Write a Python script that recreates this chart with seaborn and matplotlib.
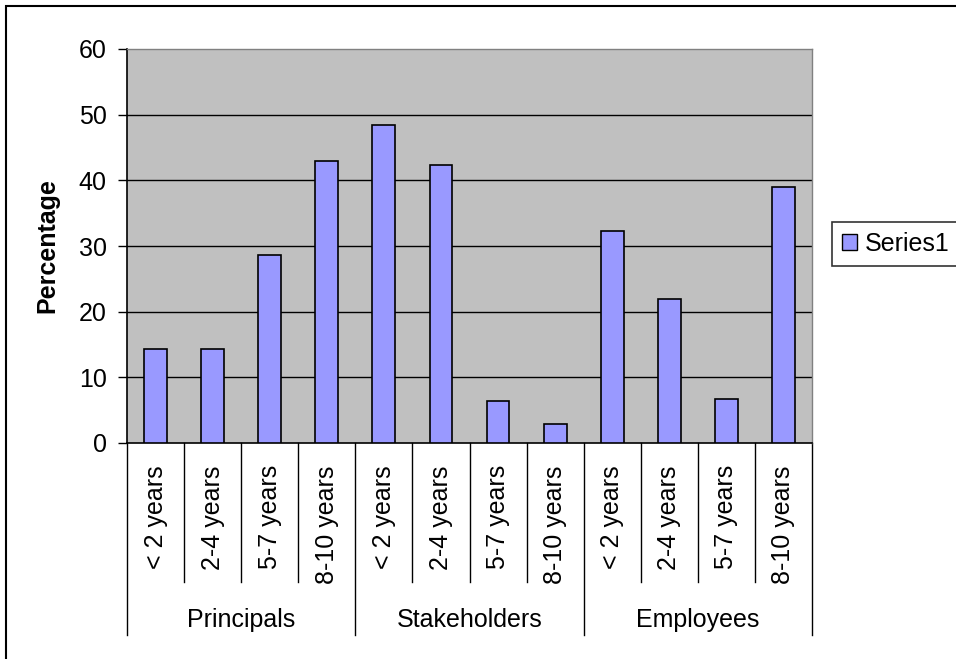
import matplotlib
matplotlib.use("Agg")
import matplotlib.pyplot as plt
from matplotlib.patches import Patch, Rectangle
import seaborn as sns
import pandas as pd

groups = ["Principals", "Stakeholders", "Employees"]
ages = ["< 2 years", "2-4 years", "5-7 years", "8-10 years"]
principals = [14.3, 14.3, 28.6, 42.9]
stakeholders = [48.4, 42.3, 6.4, 2.9]
employees = [32.3, 22.0, 6.7, 39.0]
series_name = "Series1"
y_ticks = [0, 10, 20, 30, 40, 50, 60]

plt.rcParams['font.family'] = ['Liberation Sans', 'DejaVu Sans']
FS = 18

rows = []
for g, vals in zip(groups, [principals, stakeholders, employees]):
    for a, v in zip(ages, vals):
        rows.append({"slot": f"{g}|{a}", "group": g, "age": a, "value": v})
df = pd.DataFrame(rows)
order = list(df["slot"])

W, H = 956, 659
fig = plt.figure(figsize=(W / 100, H / 100), dpi=100)
ax = fig.add_axes([127 / W, 1 - 443 / H, (812 - 127) / W, (443 - 49) / H])
ax.set_facecolor("#C0C0C0")

sns.barplot(data=df, x="slot", y="value", order=order, ax=ax, width=0.4,
            color="#9999FF", saturation=1, edgecolor="black", linewidth=1.2,
            errorbar=None, zorder=3)

ax.set_ylim(0, 60)
ax.set_xlim(-0.5, len(order) - 0.5)
ax.set_yticks(y_ticks)
ax.set_yticklabels([str(t) for t in y_ticks], fontsize=FS)
for t in y_ticks[1:-1]:
    ax.axhline(t, color="black", lw=1.0, zorder=1)

ax.set_xticks(range(len(order)))
ax.set_xticklabels(list(df["age"]), rotation=90, fontsize=FS, va="top", ha="center")
ax.tick_params(axis="x", length=0, pad=16)
ax.tick_params(axis="y", length=6.5, width=1.0, direction="out", pad=8, colors="black")

for side in ["left", "bottom"]:
    ax.spines[side].set_color("black")
    ax.spines[side].set_linewidth(1.2)
for side in ["top", "right"]:
    ax.spines[side].set_color("#808080")
    ax.spines[side].set_linewidth(1.0)

ax.set_xlabel("")
ax.set_ylabel("Percentage", fontsize=FS, fontweight="bold")
ax.yaxis.set_label_coords(-0.098, 0.5)

# category separators (multi-level axis)
trans = ax.get_xaxis_transform()
axh = 443 - 49
n_age = len(ages)
for i in range(len(order) + 1):
    x = i - 0.5
    if i % n_age == 0:
        y_end = -(635 - 443) / axh
    else:
        y_end = -(582 - 443) / axh
    ax.plot([x, x], [0, y_end], color="black", lw=1.0, transform=trans, clip_on=False)

for gi, g in enumerate(groups):
    xc = gi * n_age + (n_age - 1) / 2
    ax.text(xc, -(620 - 443) / axh, g, transform=trans, ha="center", va="center",
            fontsize=FS)

# legend
handle = Patch(facecolor="#9999FF", edgecolor="black", linewidth=1.0, label=series_name)
leg = fig.legend(handles=[handle], loc="center left",
                 bbox_to_anchor=(832 / W, 1 - 244 / H), fontsize=FS,
                 frameon=True, fancybox=False, borderaxespad=0,
                 handlelength=0.6, handleheight=0.6, handletextpad=0.33,
                 borderpad=0.4)
leg.get_frame().set_edgecolor("black")
leg.get_frame().set_linewidth(1.2)

# outer chart border (cropped at right and bottom)
fig.patches.append(Rectangle((6 / W, -0.1), 1.2, 1 - 6 / H + 0.1,
                             transform=fig.transFigure, fill=False,
                             edgecolor="black", lw=1.5))

fig.savefig("out.png", dpi=100)
